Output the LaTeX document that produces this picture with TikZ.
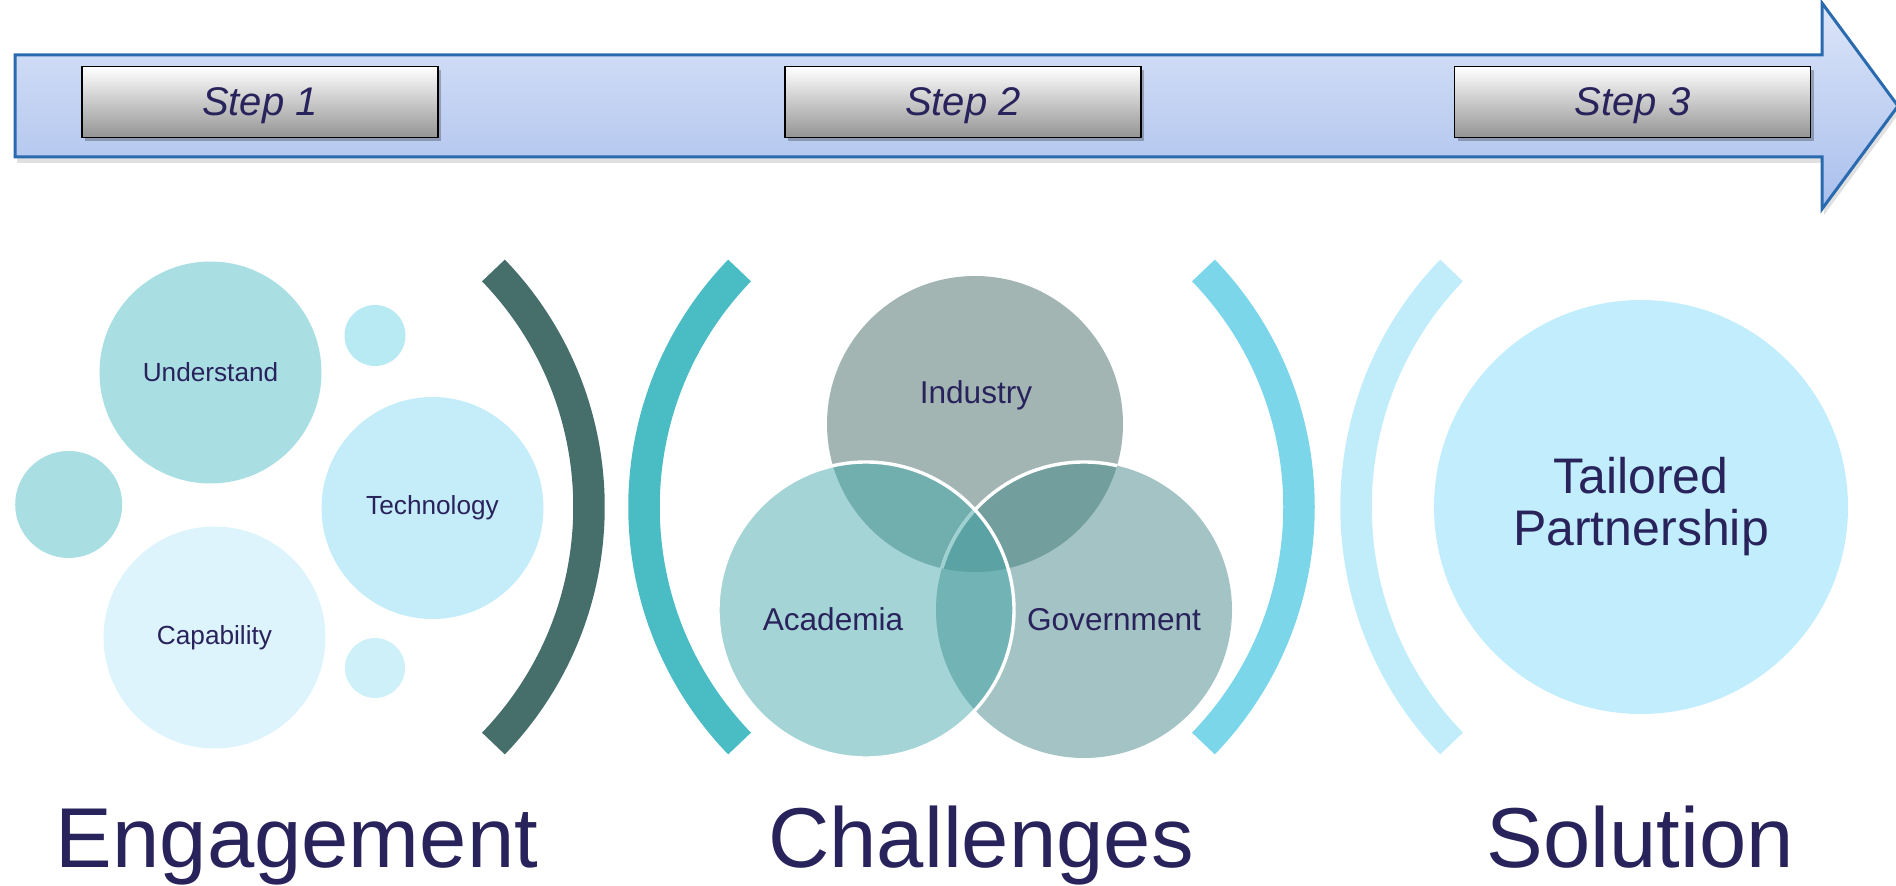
\documentclass[tikz,border=0pt]{standalone}
\usepackage{fontspec}
\setmainfont{Liberation Sans}
\usepackage{xcolor}
\usepackage{tikz}
\usetikzlibrary{shadows}
\definecolor{navy}{HTML}{29235C}
\definecolor{arrowline}{HTML}{2A6AAE}
\definecolor{arrowtop}{HTML}{DCE5F9}
\definecolor{arrowbot}{HTML}{A9BFEC}
\definecolor{undcol}{HTML}{A9DEE3}
\definecolor{dotacol}{HTML}{B8EAF3}
\definecolor{dotbcol}{HTML}{CEF0F9}
\definecolor{techcol}{HTML}{C4EDF9}
\definecolor{capcol}{HTML}{DDF4FC}
\definecolor{solcol}{HTML}{C1EDFC}
\definecolor{bracketa}{HTML}{466E6B}
\definecolor{bracketb}{HTML}{4ABCC4}
\definecolor{bracketc}{HTML}{7BD6EA}
\definecolor{bracketd}{HTML}{C1EDFB}
\definecolor{indcol}{HTML}{A2B5B3}
\definecolor{acacol}{HTML}{A4D4D6}
\definecolor{govcol}{HTML}{A4C3C4}
\definecolor{iacol}{HTML}{71AFAF}
\definecolor{igcol}{HTML}{729E9D}
\definecolor{agcol}{HTML}{72B4B6}
\definecolor{iagcol}{HTML}{5BA2A4}
\definecolor{faintline}{HTML}{9ED0D0}
\tikzstyle{timeline} = [draw=arrowline, line width=1.5pt, top color=arrowtop, bottom color=arrowbot, drop shadow={shadow xshift=1pt, shadow yshift=-3pt, opacity=0.12, fill=black}]
\tikzstyle{stepbox} = [rectangle, draw=black, line width=0.6pt, top color=white, bottom color=black!42, minimum width=178pt, minimum height=35.5pt, text depth=0pt, inner sep=0pt, text=navy, font=\itshape\fontsize{20}{24}\selectfont, drop shadow={shadow xshift=1.5pt, shadow yshift=-2pt, opacity=0.25, fill=black}]
\tikzstyle{bubble} = [circle, inner sep=0pt, text=navy, font=\fontsize{13.1}{15}\selectfont]
\tikzstyle{bracket} = [line width=15.75pt]
\tikzstyle{venntext} = [anchor=base, text=navy, font=\fontsize{15.8}{18}\selectfont]
\tikzstyle{title} = [anchor=base, text=navy, font=\fontsize{42.5}{50}\selectfont]

\begin{document}
\begin{tikzpicture}[x=0.5pt, y=0.5pt]
    \useasboundingbox (0,0) rectangle (1896,-886);

    \draw [timeline] (15,-55) -- (1822,-55) -- (1822,-3) -- (1898,-106) -- (1822,-209) -- (1822,-157) -- (15,-157) -- cycle;
    \node (step1) [stepbox] at (260,-102) {Step 1};
    \node (step2) [stepbox] at (963,-102) {Step 2};
    \node (step3) [stepbox] at (1632.5,-102) {Step 3};

    \node (understand) [bubble, fill=undcol, minimum size=111pt] at (210.5,-372.5) {Understand};
    \node (dottop) [bubble, fill=dotacol, minimum size=30.5pt] at (375,-335.5) {};
    \node (dotleft) [bubble, fill=undcol, minimum size=53.5pt] at (68.7,-504.5) {};
    \node (technology) [bubble, fill=techcol, minimum size=111pt] at (432.5,-508) {Technology};
    \node (capability) [bubble, fill=capcol, minimum size=111pt] at (214.5,-637.5) {Capability};
    \node (dotbottom) [bubble, fill=dotbcol, minimum size=30pt] at (375,-668) {};

    \draw [bracket, bracketa] (248.5,-507) ++(-44:340.5) arc[start angle=-44, end angle=44, radius=340.5];
    \draw [bracket, bracketb] (984.5,-507) ++(136:340.5) arc[start angle=136, end angle=224, radius=340.5];
    \draw [bracket, bracketc] (958.5,-507) ++(-44:340.5) arc[start angle=-44, end angle=44, radius=340.5];
    \draw [bracket, bracketd] (1696.5,-507) ++(136:340.5) arc[start angle=136, end angle=224, radius=340.5];

    \coordinate (ind) at (975,-424);
    \coordinate (aca) at (866,-610);
    \coordinate (gov) at (1084,-610);
    \fill [indcol] (ind) circle (148);
    \fill [acacol] (aca) circle (148);
    \fill [govcol] (gov) circle (148);
    \begin{scope}
        \clip (ind) circle (148);
        \fill [iacol] (aca) circle (148);
        \fill [igcol] (gov) circle (148);
        \draw [white, line width=1.7pt] (gov) circle (148);
    \end{scope}
    \begin{scope}
        \clip (aca) circle (148);
        \fill [agcol] (gov) circle (148);
        \clip (ind) circle (148);
        \fill [iagcol] (gov) circle (148);
        \draw [faintline, line width=1.7pt] (gov) circle (148);
    \end{scope}
    \draw [white, line width=1.7pt] (aca) circle (148);
    \node (industry) [venntext] at (976,-404) {Industry};
    \node (academia) [venntext] at (833,-631) {Academia};
    \node (government) [venntext] at (1114,-631) {Government};

    \node (solution) [bubble, fill=solcol, minimum size=207pt, align=center, font=\fontsize{25}{26}\selectfont] at (1641,-507) {Tailored\\Partnership};

    \node (engagement) [title] at (297,-868) {Engagement};
    \node (challenges) [title] at (981,-868) {Challenges};
    \node (solutiontitle) [title] at (1640,-868) {Solution};
\end{tikzpicture}
\end{document}
